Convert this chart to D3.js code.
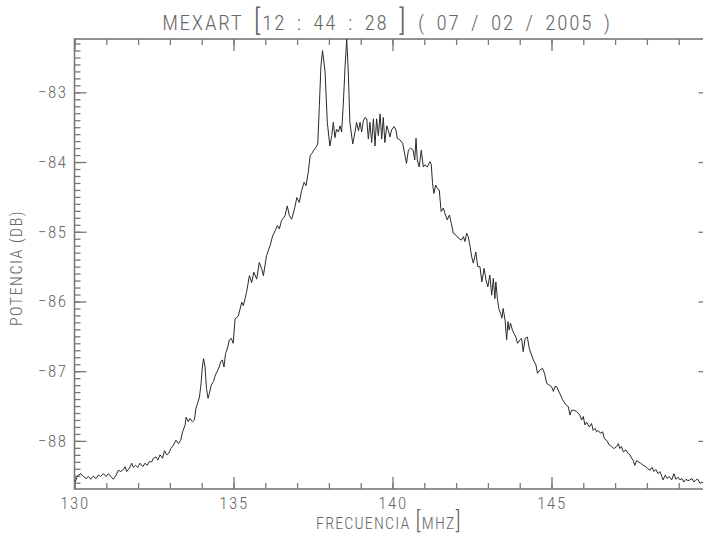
<!DOCTYPE html>
<html>
<head>
<meta charset="utf-8">
<script src="https://cdn.jsdelivr.net/npm/d3@7"></script>
<style>
  html, body { margin: 0; padding: 0; background: #fff; }
  svg { display: block; }
  text { font-family: "Roboto Condensed", "Liberation Sans Narrow", "DejaVu Sans Condensed", sans-serif; font-weight: 300; fill: #666; }
</style>
</head>
<body>
<svg id="chart" width="703" height="537"></svg>
<script>
// ---- data ----
const titleParts = ["MEXART ", "[", "12 : 44 : 28 ", "]", " ( 07 / 02 / 2005 )"];
const xLabel = ["FRECUENCIA ", "[", "MHZ", "]"];
const yLabel = "POTENCIA (DB)";
const xMajorTicks = [130, 135, 140, 145, 150];
const xTickLabels = ["130", "135", "140", "145", ""];
const yMajorTicks = [-88, -87, -86, -85, -84, -83];
const yTickLabels = ["\u221288", "\u221287", "\u221286", "\u221285", "\u221284", "\u221283"];
const xDomain = [130, 150];
const yDomain = [-88.69, -82.235];

const freq = [
130.02,130.10,130.20,130.28,130.36,130.44,130.51,130.59,130.68,130.75,130.82,130.91,130.99,131.07,131.14,131.22,131.31,131.38,131.45,131.54,131.59,131.64,131.73,131.80,131.85,131.92,131.99,132.06,132.145,132.22,132.29,132.35,132.43,132.48,132.56,132.62,132.69,132.77,132.83,132.90,132.96,133.03,133.11,133.19,133.27,133.34,133.40,133.48,133.51,133.58,133.63,133.71,133.77,133.82,133.87,133.93,133.98,134.02,134.06,134.105,134.15,134.20,134.24,134.30,134.37,134.43,134.48,134.55,134.60,134.65,134.70,134.75,134.81,134.87,134.93,134.99,135.05,135.15,135.26,135.31,135.41,135.50,135.57,135.64,135.73,135.81,135.89,135.94,136.04,136.15,136.23,136.31,136.38,136.44,136.51,136.62,136.69,136.76,136.83,136.93,136.99,137.07,137.14,137.22,137.28,137.35,137.41,137.46,137.51,137.59,137.65,137.70,137.75,137.80,137.88,137.95,138.03,138.09,138.14,138.19,138.24,138.30,138.35,138.40,138.45,138.51,138.56,138.61,138.66,138.75,138.82,138.87,138.93,138.98,139.03,139.08,139.135,139.19,139.24,139.29,139.345,139.40,139.45,139.50,139.555,139.61,139.66,139.71,139.76,139.82,139.87,139.92,139.97,140.05,140.11,140.15,140.23,140.32,140.39,140.44,140.50,140.57,140.65,140.70,140.74,140.78,140.84,140.905,140.97,141.02,141.09,141.18,141.22,141.26,141.30,141.36,141.41,141.47,141.53,141.60,141.65,141.72,141.79,141.85,141.91,142.00,142.07,142.17,142.23,142.28,142.33,142.38,142.44,142.49,142.54,142.62,142.68,142.75,142.81,142.88,142.94,143.00,143.06,143.12,143.17,143.22,143.25,143.30,143.34,143.40,143.44,143.48,143.54,143.59,143.63,143.67,143.71,143.77,143.82,143.88,143.93,144.01,144.06,144.11,144.17,144.24,144.30,144.35,144.43,144.51,144.56,144.64,144.72,144.78,144.85,144.93,145.00,145.06,145.11,145.16,145.26,145.35,145.42,145.47,145.53,145.58,145.63,145.70,145.79,145.89,145.95,146.00,146.05,146.10,146.19,146.26,146.31,146.37,146.42,146.47,146.54,146.61,146.66,146.73,146.82,146.89,146.96,147.05,147.10,147.15,147.20,147.26,147.34,147.41,147.47,147.52,147.57,147.62,147.68,147.73,147.80,147.885,147.97,148.03,148.10,148.16,148.22,148.28,148.35,148.41,148.47,148.51,148.58,148.64,148.70,148.78,148.85,148.91,148.98,149.04,149.10,149.16,149.23,149.29,149.35,149.42,149.48,149.54,149.60,149.67,149.73,149.80,149.90,150.00
];
const power = [
-88.59,-88.50,-88.47,-88.51,-88.54,-88.51,-88.55,-88.505,-88.54,-88.49,-88.51,-88.47,-88.51,-88.47,-88.51,-88.55,-88.49,-88.42,-88.44,-88.41,-88.37,-88.44,-88.39,-88.32,-88.38,-88.35,-88.38,-88.32,-88.37,-88.32,-88.35,-88.30,-88.30,-88.25,-88.23,-88.275,-88.20,-88.25,-88.14,-88.20,-88.18,-88.11,-88.06,-87.99,-88.04,-87.99,-87.87,-87.77,-87.66,-87.725,-87.68,-87.725,-87.70,-87.53,-87.46,-87.37,-87.175,-86.94,-86.82,-86.94,-87.25,-87.39,-87.32,-87.20,-87.15,-87.055,-87.01,-86.94,-86.86,-86.84,-86.94,-86.745,-86.67,-86.55,-86.53,-86.60,-86.25,-86.21,-86.01,-86.06,-85.87,-85.63,-85.73,-85.58,-85.68,-85.44,-85.535,-85.63,-85.34,-85.20,-85.06,-84.985,-84.91,-84.96,-84.84,-84.77,-84.63,-84.77,-84.82,-84.65,-84.51,-84.58,-84.41,-84.29,-84.34,-84.15,-83.91,-83.88,-83.84,-83.79,-83.74,-83.19,-82.62,-82.40,-82.71,-83.43,-83.77,-83.62,-83.43,-83.65,-83.53,-83.57,-83.48,-83.57,-83.19,-82.62,-82.24,-82.71,-83.43,-83.74,-83.57,-83.43,-83.55,-83.43,-83.57,-83.41,-83.36,-83.38,-83.67,-83.43,-83.72,-83.38,-83.77,-83.38,-83.62,-83.31,-83.67,-83.36,-83.72,-83.48,-83.55,-83.64,-83.54,-83.49,-83.54,-83.66,-83.68,-83.73,-83.90,-84.02,-83.83,-83.80,-83.83,-83.97,-83.66,-83.97,-84.07,-83.83,-84.07,-84.04,-84.07,-83.995,-84.04,-84.31,-84.45,-84.33,-84.38,-84.40,-84.71,-84.66,-84.74,-84.83,-84.76,-84.88,-85.02,-85.05,-85.09,-85.12,-85.07,-85.14,-85.02,-85.07,-85.21,-85.36,-85.45,-85.29,-85.50,-85.50,-85.72,-85.525,-85.69,-85.79,-85.62,-85.91,-85.67,-85.96,-85.72,-85.96,-86.10,-86.17,-86.24,-86.10,-86.27,-86.55,-86.29,-86.41,-86.31,-86.41,-86.46,-86.51,-86.60,-86.55,-86.53,-86.72,-86.53,-86.51,-86.67,-86.74,-86.84,-86.91,-87.03,-86.98,-86.96,-87.03,-87.175,-87.20,-87.22,-87.29,-87.22,-87.22,-87.32,-87.41,-87.46,-87.49,-87.51,-87.63,-87.56,-87.56,-87.58,-87.63,-87.70,-87.65,-87.77,-87.73,-87.80,-87.75,-87.85,-87.82,-87.87,-87.85,-87.89,-87.87,-87.965,-87.99,-88.06,-88.08,-88.11,-88.08,-88.04,-88.11,-88.08,-88.16,-88.13,-88.18,-88.20,-88.25,-88.28,-88.35,-88.28,-88.30,-88.32,-88.35,-88.37,-88.40,-88.42,-88.38,-88.44,-88.41,-88.47,-88.44,-88.51,-88.56,-88.49,-88.54,-88.51,-88.56,-88.47,-88.55,-88.52,-88.56,-88.54,-88.59,-88.55,-88.57,-88.56,-88.54,-88.59,-88.56,-88.55,-88.61,-88.59,-88.62,-88.60,-88.63
];

// ---- layout ----
const plot = { left: 74.5, right: 710.5, top: 39, bottom: 489 };
const axisColor = "#777";

const svg = d3.select("#chart");
const x = d3.scaleLinear().domain(xDomain).range([plot.left, plot.right]);
const y = d3.scaleLinear().domain(yDomain).range([plot.bottom, plot.top]);

const xMinor = d3.range(xDomain[0], xDomain[1] + 0.001, 1);
const yMinor = d3.range(-88.6, -82.25, 0.1).map(v => +v.toFixed(1));

function styleAxis(g) {
  g.selectAll("path.domain").remove();
  g.selectAll(".tick line").attr("stroke", axisColor).attr("stroke-width", 1.3);
  g.selectAll(".tick text").attr("fill", "#666")
    .style("font-size", "17px").style("letter-spacing", "1.5px")
    .style("font-family", null);
}

// minor ticks
svg.append("g").attr("transform", `translate(0,${plot.bottom})`)
  .call(d3.axisBottom(x).tickValues(xMinor).tickSize(-6).tickFormat("")).call(styleAxis);
svg.append("g").attr("transform", `translate(0,${plot.top})`)
  .call(d3.axisTop(x).tickValues(xMinor).tickSize(-6).tickFormat("")).call(styleAxis);
svg.append("g").attr("transform", `translate(${plot.left},0)`)
  .call(d3.axisLeft(y).tickValues(yMinor).tickSize(-6).tickFormat("")).call(styleAxis);
svg.append("g").attr("transform", `translate(${plot.right},0)`)
  .call(d3.axisRight(y).tickValues(yMinor).tickSize(-6).tickFormat("")).call(styleAxis);

// major ticks
svg.append("g").attr("transform", `translate(0,${plot.bottom})`)
  .call(d3.axisBottom(x).tickValues(xMajorTicks).tickSize(-12).tickPadding(8)
    .tickFormat((d, i) => xTickLabels[i])).call(styleAxis)
  .call(g => g.attr("font-family", null));
svg.append("g").attr("transform", `translate(0,${plot.top})`)
  .call(d3.axisTop(x).tickValues(xMajorTicks).tickSize(-12).tickFormat("")).call(styleAxis);
svg.append("g").attr("transform", `translate(${plot.left},0)`)
  .call(d3.axisLeft(y).tickValues(yMajorTicks).tickSize(-12).tickPadding(7)
    .tickFormat((d, i) => yTickLabels[i])).call(styleAxis)
  .call(g => g.attr("font-family", null));
svg.append("g").attr("transform", `translate(${plot.right},0)`)
  .call(d3.axisRight(y).tickValues(yMajorTicks).tickSize(-12).tickFormat("")).call(styleAxis);

// frame
svg.append("rect")
  .attr("x", plot.left).attr("y", plot.top)
  .attr("width", plot.right - plot.left).attr("height", plot.bottom - plot.top)
  .attr("fill", "none").attr("stroke", axisColor).attr("stroke-width", 1.6);

// clip + line
svg.append("clipPath").attr("id", "clip").append("rect")
  .attr("x", plot.left).attr("y", plot.top - 1)
  .attr("width", plot.right - plot.left).attr("height", plot.bottom - plot.top + 1);

const data = freq.map((f, i) => ({ f, p: power[i] }));
svg.append("path")
  .datum(data)
  .attr("clip-path", "url(#clip)")
  .attr("fill", "none")
  .attr("stroke", "#2a2a2a")
  .attr("stroke-width", 1)
  .attr("stroke-linejoin", "round")
  .attr("d", d3.line().x(d => x(d.f)).y(d => y(d.p)));

// title
const title = svg.append("text")
  .attr("x", 387).attr("y", 30)
  .attr("text-anchor", "middle")
  .style("font-size", "21px")
  .style("letter-spacing", "1.8px")
  .style("word-spacing", "4px");
titleParts.forEach(t => {
  const big = (t === "[" || t === "]");
  title.append("tspan").text(t).style("font-size", big ? "30px" : "21px");
});

// x label
const xl = svg.append("text")
  .attr("x", 389).attr("y", 529)
  .attr("text-anchor", "middle")
  .style("font-size", "16px")
  .style("letter-spacing", "1.2px");
xLabel.forEach(t => {
  const big = (t === "[" || t === "]");
  xl.append("tspan").text(t).style("font-size", big ? "23px" : "16px");
});

// y label
svg.append("text")
  .attr("transform", `translate(22,268) rotate(-90)`)
  .attr("text-anchor", "middle")
  .style("font-size", "16px")
  .style("letter-spacing", "1.5px")
  .text(yLabel);
</script>
</body>
</html>
